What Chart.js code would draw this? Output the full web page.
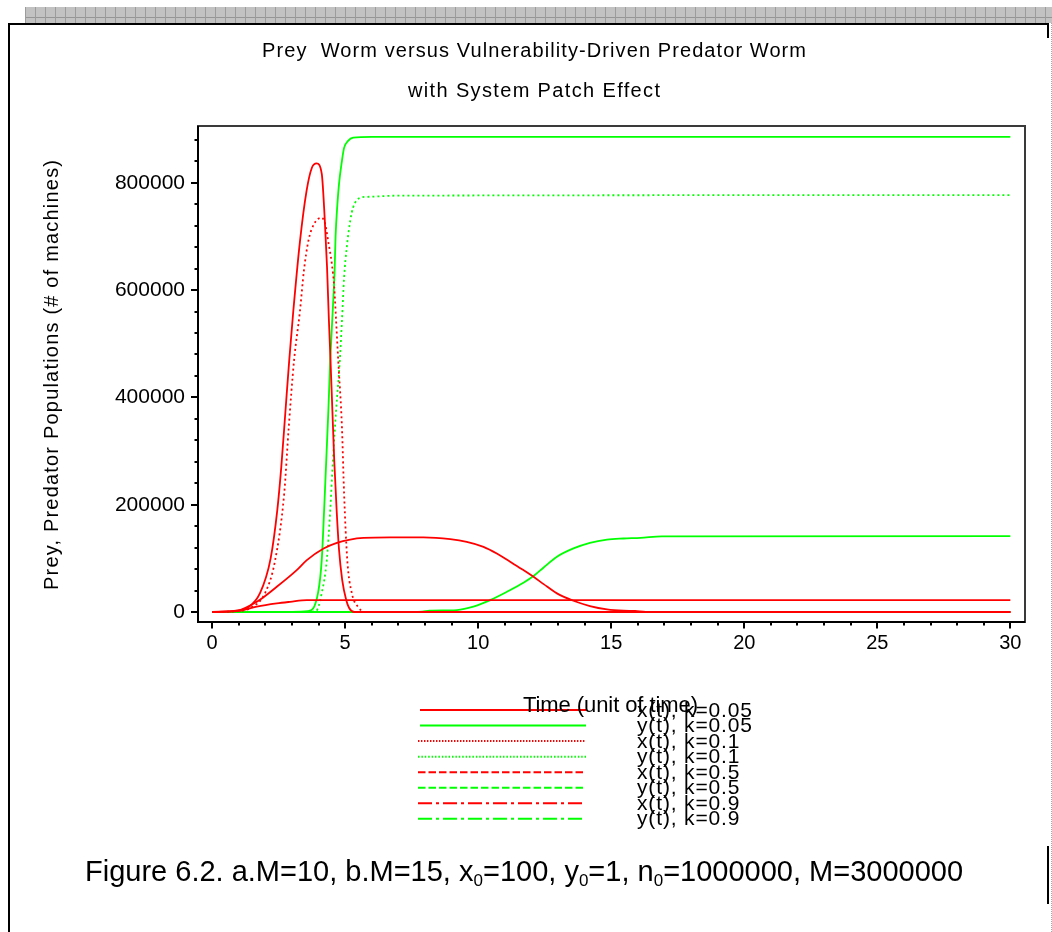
<!DOCTYPE html>
<html>
<head>
<meta charset="utf-8">
<script src="https://cdn.jsdelivr.net/npm/chart.js@4.4.1/dist/chart.umd.min.js"></script>
<style>
html,body{margin:0;padding:0;background:#fff;}
body{width:1052px;height:932px;position:relative;overflow:hidden;font-family:"Liberation Sans",Arial,Helvetica,sans-serif;}
#band{position:absolute;left:25px;top:7px;width:1027px;height:16px;background-color:#c2c2c2;
  background-image:repeating-linear-gradient(90deg,#9c9c9c 0 1px,transparent 1px 10px),
  linear-gradient(#c2c2c2 0 10px,#959595 10px 11px,#c2c2c2 11px);}
.bl{position:absolute;background:#000;}
#dotr{position:absolute;left:1051px;top:23px;width:1px;height:909px;background:repeating-linear-gradient(#a8a8a8 0 1px,transparent 1px 2px);}
#c{position:absolute;left:0;top:0;}
#cap{position:absolute;left:85px;top:857px;font-size:29px;line-height:29px;white-space:nowrap;color:#000;}
#cap sub{font-size:17px;line-height:0;vertical-align:-5px;}
</style>
</head>
<body>
<div id="band"></div>
<canvas id="c" width="1052" height="932"></canvas>
<div class="bl" style="left:8px;top:23px;width:1041px;height:2px;"></div>
<div class="bl" style="left:8px;top:23px;width:2px;height:909px;"></div>
<div class="bl" style="left:1047px;top:23px;width:2px;height:15px;"></div>
<div class="bl" style="left:1047px;top:846px;width:2px;height:58px;"></div>
<div id="dotr"></div>
<div id="cap">Figure 6.2. a.M=10, b.M=15, x<sub>0</sub>=100, y<sub>0</sub>=1, n<sub>0</sub>=1000000, M=3000000</div>
<script>
// ---------------- data ----------------
const xTickValues = [0, 5, 10, 15, 20, 25, 30];
const xTickLabels = ['0', '5', '10', '15', '20', '25', '30'];
const yTickValues = [0, 200000, 400000, 600000, 800000];
const yTickLabels = ['0', '200000', '400000', '600000', '800000'];

const seriesLabels = ['x(t), k=0.05', 'y(t), k=0.05', 'x(t), k=0.1', 'y(t), k=0.1',
                      'x(t), k=0.5', 'y(t), k=0.5', 'x(t), k=0.9', 'y(t), k=0.9'];

// x(t), k=0.05
const tX005 = [0, 0.93, 1.32, 1.8, 2.2, 2.45, 2.6, 2.75, 2.9, 3.05, 3.3, 3.55, 3.75, 3.93, 4.12, 4.23, 4.32, 4.39, 4.45, 4.52, 4.59, 4.68, 4.77, 4.89, 5.04, 5.15, 5.34, 30];
const vX005 = [100, 2400, 7400, 35000, 100000, 190000, 270000, 370000, 470000, 560000, 690000, 785000, 828000, 836000, 817000, 735000, 642000, 543000, 469000, 376000, 283000, 190000, 116000, 59500, 22300, 7400, 0, 0];
// y(t), k=0.05
const tY005 = [0, 3.0, 3.6, 3.98, 4.12, 4.21, 4.29, 4.37, 4.44, 4.54, 4.6, 4.64, 4.71, 4.77, 4.88, 4.96, 5.11, 5.3, 6.0, 30];
const vY005 = [1, 300, 1500, 35300, 96700, 190000, 283000, 376000, 469000, 568000, 630000, 700000, 761000, 798000, 841000, 865000, 878000, 884000, 885600, 885600];
// x(t), k=0.1
const tX01 = [0, 0.95, 1.43, 1.99, 2.37, 2.71, 2.88, 3.08, 3.3, 3.45, 3.62, 3.83, 4.12, 4.25, 4.36, 4.5, 4.59, 4.66, 4.74, 4.88, 4.96, 5.08, 5.25, 5.49, 5.75, 30];
const vX01 = [100, 1500, 7400, 35300, 96700, 221000, 344000, 469000, 560000, 636000, 692000, 723000, 735000, 723000, 692000, 649000, 605000, 543000, 469000, 344000, 221000, 96700, 35300, 9300, 0, 0];
// y(t), k=0.1
const tY01 = [0, 3.5, 3.91, 4.12, 4.31, 4.44, 4.54, 4.66, 4.8, 4.88, 4.96, 5.06, 5.19, 5.3, 5.56, 5.94, 7.0, 30];
const vY01 = [1, 300, 2000, 35300, 96700, 190000, 283000, 376000, 469000, 543000, 623000, 679000, 729000, 754000, 772000, 774000, 776000, 777000];
// x(t), k=0.5
const tX05 = [0, 0.93, 1.68, 2.43, 3.18, 3.56, 4.19, 4.69, 5.19, 5.69, 6.69, 7.94, 8.95, 9.57, 10.2, 10.7, 11.2, 11.7, 12.08, 12.46, 12.96, 13.58, 14.2, 14.84, 15.46, 15.9, 16.3, 30];
const vX05 = [100, 2400, 19000, 47000, 78000, 96700, 118500, 129000, 135000, 138000, 139000, 139000, 135800, 130800, 121500, 109000, 93600, 78100, 65700, 52000, 34800, 21000, 11200, 5000, 2500, 2000, 300, 0];
// y(t), k=0.5
const tY05 = [0, 7.0, 7.9, 8.17, 9.2, 9.82, 10.45, 11.08, 11.7, 12.08, 12.46, 12.96, 13.58, 14.2, 14.84, 15.46, 16.1, 16.9, 30];
const vY05 = [1, 100, 700, 2500, 3700, 10000, 22300, 37800, 54500, 67000, 83000, 103000, 118500, 129000, 135000, 137000, 138200, 141000, 141400];
// x(t), k=0.9
const tX09 = [0, 0.93, 1.68, 2.43, 2.93, 3.56, 5.0, 30];
const vX09 = [100, 1500, 10000, 16000, 19000, 22300, 22300, 22300];
// y(t), k=0.9
const tY09 = [0, 30];
const vY09 = [1, 1];

// ---------------- styles ----------------
const RED = '#ff0000', GREEN = '#00ff00';
const FONT = '"Liberation Sans", Arial, Helvetica, sans-serif';
Chart.defaults.font.family = FONT;

function pts(t, v) { return t.map((ti, i) => ({ x: ti, y: v[i] })); }

const seriesData = [[tX005, vX005], [tY005, vY005], [tX01, vX01], [tY01, vY01],
                    [tX05, vX05], [tY05, vY05], [tX09, vX09], [tY09, vY09]];
const plotDash = [[], [], [2, 3], [2, 3], [], [], [], []];
const legendDash = [[], [], [1.4, 1.6], [1.5, 1.9], [7.5, 3], [7.5, 3], [14, 4, 3, 4], [14, 4, 3, 4]];

const datasets = seriesData.map((sd, i) => ({
  label: seriesLabels[i],
  data: pts(sd[0], sd[1]),
  borderColor: i % 2 === 0 ? RED : GREEN,
  backgroundColor: i % 2 === 0 ? RED : GREEN,
  borderWidth: 1.8,
  borderDash: plotDash[i],
  legendDash: legendDash[i],
  pointRadius: 0,
  fill: false,
  cubicInterpolationMode: 'monotone',
  order: i % 2 === 0 ? 0 : 1
}));

function spacedText(ctx, text, x, y, width) {
  ctx.save();
  ctx.letterSpacing = '0px';
  const w0 = ctx.measureText(text).width;
  const ls = (width - w0) / Math.max(1, text.length - 1);
  ctx.letterSpacing = ls + 'px';
  ctx.textAlign = 'left';
  ctx.fillText(text, x, y);
  ctx.restore();
  return ls;
}

const decor = {
  id: 'decor',
  afterDatasetsDraw(chart) {
    const ctx = chart.ctx, a = chart.chartArea;
    const xs = chart.scales.x, ys = chart.scales.y;
    ctx.save();
    ctx.lineWidth = 2;
    ctx.strokeStyle = '#3a3a3a';
    ctx.strokeRect(a.left, a.top, a.right - a.left, a.bottom - a.top);
    ctx.strokeStyle = '#000';
    ctx.beginPath();
    ctx.moveTo(a.left, a.top); ctx.lineTo(a.left, a.bottom); ctx.lineTo(a.right, a.bottom);
    ctx.stroke();
    for (let t = 0; t <= 30; t++) {
      const px = Math.round(xs.getPixelForValue(t));
      const len = (t % 5 === 0) ? 6.5 : 3.5;
      ctx.beginPath(); ctx.moveTo(px, a.bottom); ctx.lineTo(px, a.bottom + len); ctx.stroke();
    }
    for (let v = 0; v <= 880000; v += 40000) {
      const py = Math.round(ys.getPixelForValue(v));
      const len = (v % 200000 === 0) ? 7 : 3.5;
      ctx.beginPath(); ctx.moveTo(a.left, py); ctx.lineTo(a.left - len, py); ctx.stroke();
    }
    ctx.restore();
  },
  afterDraw(chart) {
    const ctx = chart.ctx;
    ctx.save();
    ctx.fillStyle = '#000';
    ctx.textBaseline = 'alphabetic';
    ctx.font = '20px ' + FONT;
    spacedText(ctx, 'Prey  Worm versus Vulnerability-Driven Predator Worm', 262, 57, 544);
    spacedText(ctx, 'with System Patch Effect', 408, 97, 252);
    ctx.save();
    ctx.font = '20px ' + FONT;
    ctx.translate(58, 590);
    ctx.rotate(-Math.PI / 2);
    spacedText(ctx, 'Prey, Predator Populations (# of machines)', 0, 0, 430);
    ctx.restore();
    const ds = chart.data.datasets;
    const rowY = i => 710 + i * 15.55;
    ds.forEach((d, i) => {
      ctx.save();
      ctx.strokeStyle = d.borderColor;
      ctx.lineWidth = 2;
      ctx.setLineDash(d.legendDash);
      ctx.beginPath();
      ctx.moveTo(d.legendDash.length ? 418 : 420, rowY(i));
      ctx.lineTo(586, rowY(i));
      ctx.stroke();
      ctx.restore();
    });
    ctx.font = '22px ' + FONT;
    spacedText(ctx, 'Time (unit of time)', 523, 712, 175);
    ctx.font = '21px ' + FONT;
    ctx.letterSpacing = '0px';
    const w0 = ctx.measureText(ds[0].label).width;
    const ls = (115 - w0) / (ds[0].label.length - 1);
    ds.forEach((d, i) => {
      ctx.save();
      ctx.letterSpacing = ls + 'px';
      ctx.textAlign = 'left';
      ctx.fillText(d.label, 637, rowY(i) + 6.5);
      ctx.restore();
    });
    ctx.restore();
  }
};

new Chart(document.getElementById('c'), {
  type: 'line',
  data: { datasets },
  options: {
    responsive: false,
    animation: false,
    devicePixelRatio: 1,
    layout: { padding: { left: 0, top: 126, right: 27, bottom: 250 } },
    scales: {
      x: {
        type: 'linear',
        min: -0.53,
        max: 30.55,
        afterBuildTicks: s => { s.ticks = xTickValues.map(v => ({ value: v })); },
        afterFit: s => { s.height = 60; },
        ticks: {
          autoSkip: false, maxRotation: 0, padding: 9, color: '#000',
          font: { size: 20, family: FONT },
          callback: (v, i) => xTickLabels[i]
        },
        grid: { display: false, drawTicks: false },
        border: { display: false }
      },
      y: {
        type: 'linear',
        min: -18600,
        max: 905800,
        afterBuildTicks: s => { s.ticks = yTickValues.map(v => ({ value: v })); },
        afterFit: s => { s.width = 198; },
        ticks: {
          autoSkip: false, padding: 13, color: '#000',
          font: { size: 21, family: FONT },
          callback: (v, i) => yTickLabels[i]
        },
        grid: { display: false, drawTicks: false },
        border: { display: false }
      }
    },
    plugins: {
      legend: { display: false },
      tooltip: { enabled: false },
      title: { display: false }
    }
  },
  plugins: [decor]
});
</script>
</body>
</html>
